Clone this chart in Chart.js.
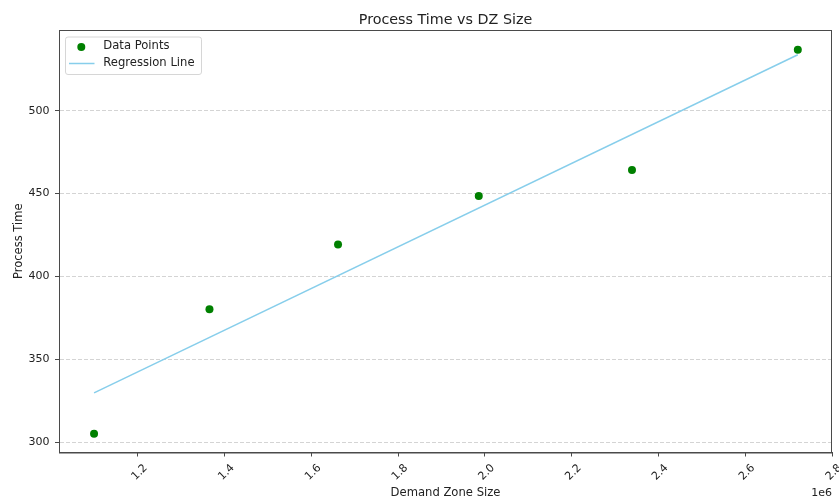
<!DOCTYPE html>
<html>
<head>
<meta charset="utf-8">
<script src="https://cdn.jsdelivr.net/npm/chart.js@4/dist/chart.umd.min.js"></script>
<style>
  html, body { margin: 0; padding: 0; background: #fff; }
  #wrap { width: 839px; height: 498px; }
</style>
</head>
<body>
<div id="wrap"><canvas id="c" width="839" height="498"></canvas></div>
<script>
// Demand zone sizes (absolute units) and their measured process times
const zoneSizes = [1099200, 1365200, 1661500, 1985900, 2339000, 2721200];
const processTimes = [305.2, 380.2, 419.3, 448.6, 464.2, 536.8];

// Fitted regression line, evaluated at the smallest and largest zone size
const fitSizes = [1099200, 2721200];
const fitTimes = [329.8, 533.8];

// Axis ticks
const xTicks = [1.2e6, 1.4e6, 1.6e6, 1.8e6, 2.0e6, 2.2e6, 2.4e6, 2.6e6, 2.8e6];
const yTicks = [300, 350, 400, 450, 500];

const FONT = "'DejaVu Sans', 'Liberation Sans', sans-serif";
const TEXT = '#222';
const FRAME = '#4a4a4a';

// Title, full axes frame, offset text and in-plot legend
const decorations = {
  id: 'decorations',
  afterDraw(chart) {
    const { ctx, chartArea: a } = chart;
    ctx.save();
    // frame around the plotting area
    ctx.strokeStyle = FRAME;
    ctx.lineWidth = 1;
    ctx.strokeRect(a.left + 0.5, a.top + 0.5, a.right - a.left - 1, a.bottom - a.top);

    // title
    ctx.fillStyle = TEXT;
    ctx.font = '14.3px ' + FONT;
    ctx.textAlign = 'center';
    ctx.textBaseline = 'alphabetic';
    ctx.fillText('Process Time vs DZ Size', (a.left + a.right) / 2, 24);

    // scale multiplier for the x axis
    ctx.font = '11px ' + FONT;
    ctx.textAlign = 'right';
    ctx.fillText('1e6', a.right, 495.5);

    // legend
    const bx = a.left + 6, by = a.top + 6.5, bw = 136, bh = 37.5;
    ctx.beginPath();
    ctx.roundRect(bx + 0.5, by + 0.5, bw, bh, 2.5);
    ctx.fillStyle = 'rgba(255,255,255,0.8)';
    ctx.fill();
    ctx.strokeStyle = '#d6d6d6';
    ctx.lineWidth = 1;
    ctx.stroke();

    const ds = chart.data.datasets;
    ctx.font = '11.6px ' + FONT;
    ctx.textAlign = 'left';
    ctx.textBaseline = 'middle';
    // scatter entry
    ctx.beginPath();
    ctx.arc(bx + 16.3, by + 10.5, 4, 0, Math.PI * 2);
    ctx.fillStyle = ds[0].backgroundColor;
    ctx.fill();
    ctx.fillStyle = TEXT;
    ctx.fillText(ds[0].label, bx + 38.3, by + 9.5);
    // line entry
    ctx.beginPath();
    ctx.moveTo(bx + 4, by + 27);
    ctx.lineTo(bx + 29.5, by + 27);
    ctx.strokeStyle = ds[1].borderColor;
    ctx.lineWidth = 1.5;
    ctx.stroke();
    ctx.fillStyle = TEXT;
    ctx.fillText(ds[1].label, bx + 38.3, by + 26.5);
    ctx.restore();
  }
};

new Chart(document.getElementById('c'), {
  type: 'scatter',
  data: {
    datasets: [
      {
        label: 'Data Points',
        data: zoneSizes.map((x, i) => ({ x, y: processTimes[i] })),
        backgroundColor: '#008000',
        borderColor: '#008000',
        pointRadius: 4,
        pointBorderWidth: 0
      },
      {
        label: 'Regression Line',
        type: 'line',
        data: fitSizes.map((x, i) => ({ x, y: fitTimes[i] })),
        borderColor: '#87ceeb',
        backgroundColor: '#87ceeb',
        borderWidth: 1.5,
        pointRadius: 0,
        fill: false,
        tension: 0
      }
    ]
  },
  options: {
    responsive: false,
    animation: false,
    events: [],
    layout: { padding: { top: 30, right: 7, left: 0, bottom: 0 } },
    plugins: {
      legend: { display: false },
      title: { display: false },
      tooltip: { enabled: false }
    },
    scales: {
      x: {
        type: 'linear',
        min: 1018400,
        max: 2800000,
        afterFit: s => { s.height = 45.5; s.paddingLeft = 0; s.paddingRight = 0; },
        afterBuildTicks: s => { s.ticks = xTicks.map(v => ({ value: v })); },
        border: { display: true, color: FRAME, width: 1 },
        grid: {
          drawOnChartArea: false,
          drawTicks: true,
          tickLength: 4,
          tickColor: FRAME,
          tickWidth: 1
        },
        ticks: {
          minRotation: 45,
          maxRotation: 45,
          padding: 5,
          labelOffset: 8,
          color: TEXT,
          font: { family: FONT, size: 11 },
          callback: v => (v / 1e6).toFixed(1)
        },
        title: {
          display: true,
          text: 'Demand Zone Size',
          color: TEXT,
          font: { family: FONT, size: 11.6, lineHeight: 0.8 },
          padding: { top: 0, bottom: 0 }
        }
      },
      y: {
        min: 293.85,
        max: 548.7,
        afterFit: s => { s.width = 59; s.paddingTop = 0; s.paddingBottom = 0; },
        afterBuildTicks: s => { s.ticks = yTicks.map(v => ({ value: v })); },
        border: { display: true, color: FRAME, width: 1, dash: [4, 2] },
        grid: {
          drawOnChartArea: true,
          drawTicks: true,
          tickLength: 4,
          color: '#d4d4d4',
          lineWidth: 1,
          tickColor: FRAME,
          tickBorderDash: [],
          tickWidth: 1
        },
        ticks: {
          padding: 5.5,
          color: TEXT,
          font: { family: FONT, size: 11 },
          callback: v => String(v)
        },
        title: {
          display: true,
          text: 'Process Time',
          color: TEXT,
          font: { family: FONT, size: 11.5 },
          padding: { top: 12.5, bottom: 0 }
        }
      }
    }
  },
  plugins: [decorations]
});
</script>
</body>
</html>
